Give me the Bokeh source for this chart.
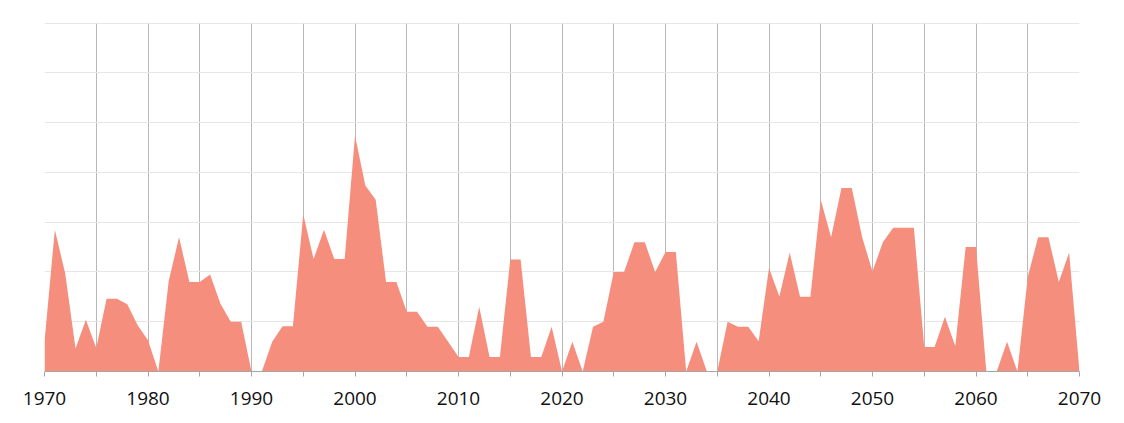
from bokeh.plotting import figure
from bokeh.models import Range1d, FixedTicker, SingleIntervalTicker
from bokeh.embed import file_html
from bokeh.resources import INLINE

years = list(range(1970, 2071))
values = [
    6, 28.5, 19.7, 4.6, 10.4, 4.7, 14.6, 14.6, 13.5, 9.3,      # 1970-1979
    6.3, 0, 18.2, 27, 18, 18, 19.5, 13.6, 10, 10,              # 1980-1989
    0, 0, 6, 9.1, 9.1, 31.6, 22.6, 28.5, 22.6, 22.6,           # 1990-1999
    47.4, 37.4, 34.5, 18, 18, 12, 12, 9, 9, 6,                 # 2000-2009
    2.9, 2.9, 13, 2.9, 2.9, 22.5, 22.5, 2.9, 2.9, 9,           # 2010-2019
    0, 6, 0, 9, 10, 20, 20, 26, 26, 20,                        # 2020-2029
    24, 24, 0, 6, 0, 0, 10, 9, 9, 6.1,                         # 2030-2039
    20.8, 15.1, 23.9, 15, 15, 34.5, 27, 36.9, 36.9, 27,        # 2040-2049
    20.1, 26, 28.9, 28.9, 28.9, 4.9, 4.9, 11, 5.1, 25,         # 2050-2059
    25, 0, 0, 6, 0, 19, 27, 27, 18, 23.9,                      # 2060-2069
    0,                                                         # 2070
]
major_ticks = [1970, 1980, 1990, 2000, 2010, 2020, 2030, 2040, 2050, 2060, 2070]
minor_ticks = [1975, 1985, 1995, 2005, 2015, 2025, 2035, 2045, 2055, 2065]
tick_labels = ["1970", "1980", "1990", "2000", "2010", "2020", "2030", "2040", "2050", "2060", "2070"]

p = figure(width=1116, height=415, output_backend="svg", toolbar_location=None,
           x_range=Range1d(1970, 2070), y_range=Range1d(0, 70.15),
           min_border_left=44, min_border_right=37, min_border_top=22, min_border_bottom=44)
p.outline_line_color = None
p.background_fill_color = "white"
p.border_fill_color = "white"

p.varea(x=years, y1=[0] * len(years), y2=values, fill_color="#F68E7E", fill_alpha=1.0)

p.yaxis.visible = False
p.ygrid.ticker = SingleIntervalTicker(interval=10)
p.ygrid.grid_line_color = "#e6e6e6"
p.ygrid.grid_line_width = 1

ticker = FixedTicker(ticks=major_ticks, minor_ticks=minor_ticks)
p.xaxis.ticker = ticker
p.xaxis.major_label_overrides = {t: l for t, l in zip(major_ticks, tick_labels)}
p.xaxis.axis_line_color = "#a6a6a6"
p.xaxis.major_tick_line_color = "#a6a6a6"
p.xaxis.minor_tick_line_color = "#a6a6a6"
p.xaxis.major_tick_in = 0
p.xaxis.major_tick_out = 5
p.xaxis.minor_tick_in = 0
p.xaxis.minor_tick_out = 5
p.xaxis.major_label_text_font = "Open Sans"
p.xaxis.major_label_text_font_size = "19px"
p.xaxis.major_label_text_color = "#111111"
p.xaxis.major_label_standoff = 15

p.xgrid.ticker = ticker
p.xgrid.grid_line_color = "#b8b8b8"
p.xgrid.minor_grid_line_color = "#b8b8b8"
p.xgrid.grid_line_width = 1

open("out.html", "w").write(file_html(p, INLINE))
